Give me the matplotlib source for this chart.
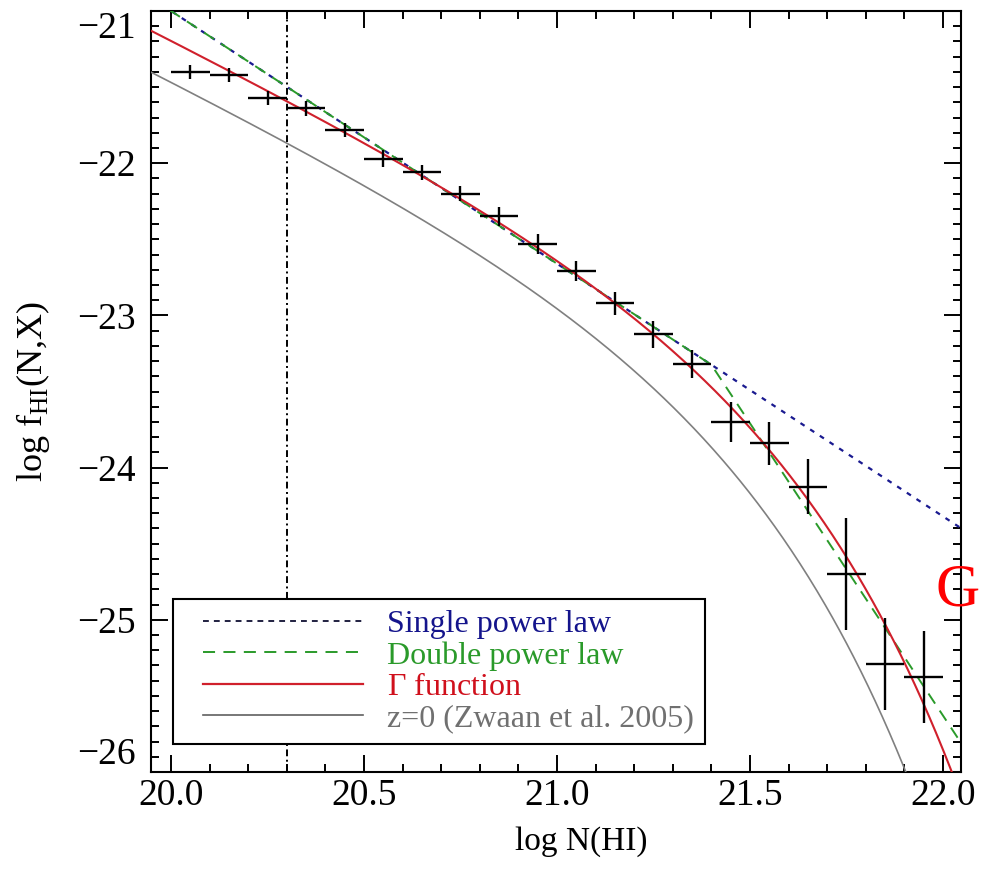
import numpy as np
import matplotlib
matplotlib.use("Agg")
import matplotlib.pyplot as plt
from matplotlib.legend_handler import HandlerLine2D
from matplotlib.lines import Line2D
from matplotlib.ticker import MultipleLocator, FixedLocator, FormatStrFormatter, FuncFormatter

plt.rcParams['font.family'] = ['Liberation Serif', 'DejaVu Serif']
plt.rcParams['mathtext.fontset'] = 'custom'
plt.rcParams['mathtext.rm'] = 'Liberation Serif'
plt.rcParams['axes.unicode_minus'] = True

# ---- data (binned measurements) ----
logN_bins = [20.05, 20.15, 20.25, 20.35, 20.45, 20.55, 20.65, 20.75, 20.85, 20.95,
             21.05, 21.15, 21.25, 21.35, 21.45, 21.55, 21.65, 21.75, 21.85, 21.95]
logf_vals = [-21.40, -21.42, -21.57, -21.64, -21.78, -21.97, -22.06, -22.20, -22.35, -22.53,
             -22.71, -22.92, -23.125, -23.32, -23.70, -23.84, -24.125, -24.70, -25.29, -25.375]
logf_err = [0.044, 0.044, 0.047, 0.05, 0.046, 0.055, 0.05, 0.05, 0.06, 0.066,
            0.065, 0.077, 0.088, 0.09, 0.13, 0.14, 0.18, 0.37, 0.30, 0.30]
bin_halfwidth = 0.05

# ---- fitted model parameters ----
single_k, single_x0, single_alpha = -21.0, 20.0, -1.66
double_k, double_x0, double_alpha1, double_break, double_alpha2 = -21.0, 20.0, -1.66, 21.40, -3.84
gamma_k, gamma_logNg, gamma_alpha = -22.80, 21.30, -1.25
zwaan_k, zwaan_logNg, zwaan_alpha = -22.93, 21.20, -1.24
dla_threshold = 20.3

x_ticks = [20.0, 20.5, 21.0, 21.5, 22.0]
y_ticks = [-26, -25, -24, -23, -22, -21]

labels = ["Single power law", "Double power law", r"$\Gamma$ function", "z=0 (Zwaan et al. 2005)"]
text_colors = ["#14148c", "#2a9a2a", "#d0101c", "#707070"]


def single_pl(x):
    return single_k + single_alpha * (x - single_x0)


def double_pl(x):
    yb = double_k + double_alpha1 * (double_break - double_x0)
    return np.where(x < double_break,
                    double_k + double_alpha1 * (x - double_x0),
                    yb + double_alpha2 * (x - double_break))


def gamma_fn(x, k, xg, a):
    u = x - xg
    return k + a * u - 10.0 ** u / np.log(10.0)


xx = np.linspace(19.9, 22.1, 600)

fig = plt.figure(figsize=(9.81, 8.69), dpi=100)
ax = fig.add_axes([151 / 981, 1 - 772 / 869, 810 / 981, 761 / 869])

ax.axvline(dla_threshold, color="black", lw=1.4, ls=(0, (3.5, 1.8, 1, 1.8)), zorder=1)

ax.plot(xx, single_pl(xx), color="#1a1a90", lw=1.6, ls=(0, (2.2, 3.0)), zorder=3)
ax.plot(xx, double_pl(xx), color="#2a9a2a", lw=1.4, ls=(0, (6.2, 4.3)), zorder=3)
ax.plot(xx, gamma_fn(xx, gamma_k, gamma_logNg, gamma_alpha), color="#d0202c", lw=1.5, zorder=3)
ax.plot(xx, gamma_fn(xx, zwaan_k, zwaan_logNg, zwaan_alpha), color="#808080", lw=1.2, zorder=3)

ax.errorbar(logN_bins, logf_vals, xerr=bin_halfwidth, yerr=logf_err, fmt="none",
            ecolor="black", elinewidth=1.7, capsize=0, zorder=4)

ax.set_xlim(19.948, 22.047)
ax.set_ylim(-26.0, -21.0)

ax.xaxis.set_major_locator(FixedLocator(x_ticks))
ax.xaxis.set_minor_locator(MultipleLocator(0.1))
ax.yaxis.set_major_locator(FixedLocator(y_ticks))
ax.yaxis.set_minor_locator(MultipleLocator(0.1))
ax.xaxis.set_major_formatter(FormatStrFormatter("%.1f"))
ax.yaxis.set_major_formatter(FuncFormatter(lambda v, p: f"{int(round(v))}".replace("-", "\u2212")))
ax.tick_params(which="both", direction="in", top=True, right=True, width=1.4, labelsize=27)
ax.tick_params(which="major", length=12)
ax.tick_params(which="minor", length=5.5)
ax.tick_params(axis="x", which="major", pad=5)
ax.tick_params(axis="y", which="major", pad=11)
for sp in ax.spines.values():
    sp.set_linewidth(1.5)

# end labels kept inside the frame height, as in the reference
yt = ax.yaxis.get_major_ticks()
yt[0].label1.set_va("bottom")
yt[-1].label1.set_va("top")


class PadHandler(HandlerLine2D):
    def __init__(self, leftpad=0.6, **kw):
        super().__init__(**kw)
        self.leftpad = leftpad

    def create_artists(self, legend, orig_handle, xdescent, ydescent, width, height, fontsize, trans):
        p = self.leftpad * fontsize
        return super().create_artists(legend, orig_handle, xdescent - p, ydescent,
                                      width - p, height, fontsize, trans)


h1 = Line2D([], [], color="#202040", lw=1.4, ls=(0, (3.0, 2.6)))
h2 = Line2D([], [], color="#2a9a2a", lw=1.4, ls=(0, (6.2, 4.3)))
h3 = Line2D([], [], color="#d0202c", lw=1.6)
h4 = Line2D([], [], color="#606060", lw=1.2)
handles = [h1, h2, h3, h4]
hm = {h: PadHandler(leftpad=0.6) for h in handles}
leg = ax.legend(handles, labels, loc="lower left", bbox_to_anchor=(0.0272, 0.0368),
                borderaxespad=0, borderpad=0.34, handlelength=5.61, handletextpad=0.75,
                labelspacing=0.06, fontsize=23, fancybox=False, framealpha=1,
                edgecolor="black", handler_map=hm)
leg.get_frame().set_linewidth(1.5)
for t, c in zip(leg.get_texts(), text_colors):
    t.set_color(c)
leg.set_zorder(5)

fig.text(581 / 981, 1 - 842 / 869, "log N(HI)", ha="center", va="center", fontsize=24)
fig.text(33 / 981, 1 - 392 / 869, r"log f$_{\rm HI}$(N,X)", ha="center", va="center",
         rotation=90, fontsize=26)
fig.text(936 / 981, 1 - 591 / 869, "G", color="red", ha="left", va="center", fontsize=44)

fig.savefig("out.png", dpi=100, facecolor="white")
